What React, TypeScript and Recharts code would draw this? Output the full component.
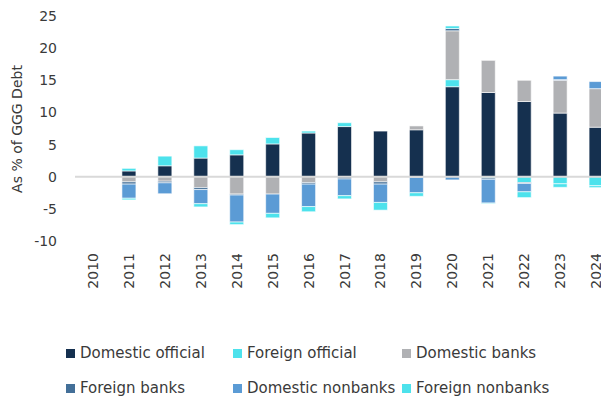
import React from 'react'
import { BarChart, Bar, XAxis, YAxis, ReferenceLine } from 'recharts'

const years = ['2010', '2011', '2012', '2013', '2014', '2015', '2016', '2017', '2018', '2019', '2020', '2021', '2022', '2023', '2024']

const domesticOfficial = [0, 0.9, 1.7, 2.9, 3.4, 5.1, 6.8, 7.8, 7.1, 7.3, 14.0, 13.1, 11.7, 9.9, 7.7]
const foreignOfficial = [0, 0.4, 1.5, 1.9, 0.8, 1.0, 0.3, 0.6, 0, 0, 1.1, -0.2, -0.9, -1.1, -1.4]
const domesticBanks = [0, -0.8, -0.7, -1.7, -2.7, -2.7, -0.9, 0, -0.8, 0.6, 7.6, 5.0, 3.3, 5.1, 6.0]
const foreignBanks = [0, -0.35, -0.25, -0.3, -0.15, 0, -0.25, -0.35, -0.35, -0.1, 0.35, -0.2, -0.15, 0.1, 0]
const domesticNonbanks = [0, -2.2, -1.7, -2.2, -4.2, -3.0, -3.5, -2.6, -2.85, -2.4, -0.5, -3.7, -1.3, 0.55, 1.1]
const foreignNonbanks = [0, -0.25, 0, -0.5, -0.4, -0.7, -0.8, -0.5, -1.2, -0.55, 0.4, -0.1, -0.9, -0.55, -0.3]

const yTicks = [-10, -5, 0, 5, 10, 15, 20, 25]

const series = [
  { key: 'domesticOfficial', name: 'Domestic official', color: '#15304F', values: domesticOfficial },
  { key: 'foreignOfficial', name: 'Foreign official', color: '#4DE2EC', values: foreignOfficial },
  { key: 'domesticBanks', name: 'Domestic banks', color: '#B0B1B4', values: domesticBanks },
  { key: 'foreignBanks', name: 'Foreign banks', color: '#436F98', values: foreignBanks },
  { key: 'domesticNonbanks', name: 'Domestic nonbanks', color: '#5B9BD5', values: domesticNonbanks },
  { key: 'foreignNonbanks', name: 'Foreign nonbanks', color: '#4DE2EC', values: foreignNonbanks },
]

const data = years.map((year, i) => {
  const row: Record<string, number | string> = { year }
  series.forEach((s) => {
    row[s.key] = s.values[i]
  })
  return row
})

const font = '"DejaVu Sans", Verdana, sans-serif'
const textColor = '#3a3a3a'

const YearTick = (props: any) => {
  const { x, y, payload } = props
  return (
    <text
      x={0}
      y={0}
      transform={`translate(${x}, ${y + 4}) rotate(-90)`}
      textAnchor="end"
      dominantBaseline="central"
      fontSize={14}
      fontFamily={font}
      fill={textColor}
    >
      {payload.value}
    </text>
  )
}

// left edge of each legend column (square), relative to the wrapper
const legendCols = [58, 225, 394]

const App: React.FC = () => {
  return (
    <div style={{ position: 'relative', width: 601, height: 392, overflow: 'hidden' }}>
      <BarChart
        width={606}
        height={300}
        data={data}
        stackOffset="sign"
        margin={{ top: 8, right: 0, bottom: 0, left: 0 }}
      >
        <XAxis
          dataKey="year"
          axisLine={false}
          tickLine={false}
          interval={0}
          height={67}
          tick={<YearTick />}
        />
        <YAxis
          domain={[-10, 25]}
          ticks={yTicks}
          axisLine={false}
          tickLine={false}
          width={67}
          tickMargin={12}
          tick={{ fontSize: 14, fontFamily: font, fill: textColor }}
          label={{
            content: () => (
              <text
                x={9}
                y={121}
                transform="rotate(-90, 9, 121)"
                textAnchor="middle"
                dominantBaseline="central"
                fontSize={14}
                fontFamily={font}
                fill={textColor}
              >
                As % of GGG Debt
              </text>
            ),
          }}
        />
        {series.map((s) => (
          <Bar
            key={s.key}
            dataKey={s.key}
            name={s.name}
            stackId="a"
            fill={s.color}
            barSize={14}
            stroke="#ffffff"
            strokeOpacity={0.6}
            strokeWidth={1}
            isAnimationActive={false}
          />
        ))}
        <ReferenceLine y={0} stroke="#d9d9d9" strokeWidth={2} />
      </BarChart>
      {series.map((s, i) => {
        const col = i % 3
        const row = Math.floor(i / 3)
        return (
          <div
            key={s.key}
            style={{
              position: 'absolute',
              left: legendCols[col],
              top: 328 + row * 35,
              height: 34,
              display: 'flex',
              alignItems: 'center',
              fontFamily: font,
              fontSize: 15,
              color: textColor,
              whiteSpace: 'nowrap',
            }}
          >
            <span style={{ width: 9, height: 9, background: s.color, marginRight: 5, display: 'inline-block' }} />
            {s.name}
          </div>
        )
      })}
    </div>
  )
}

export default App
